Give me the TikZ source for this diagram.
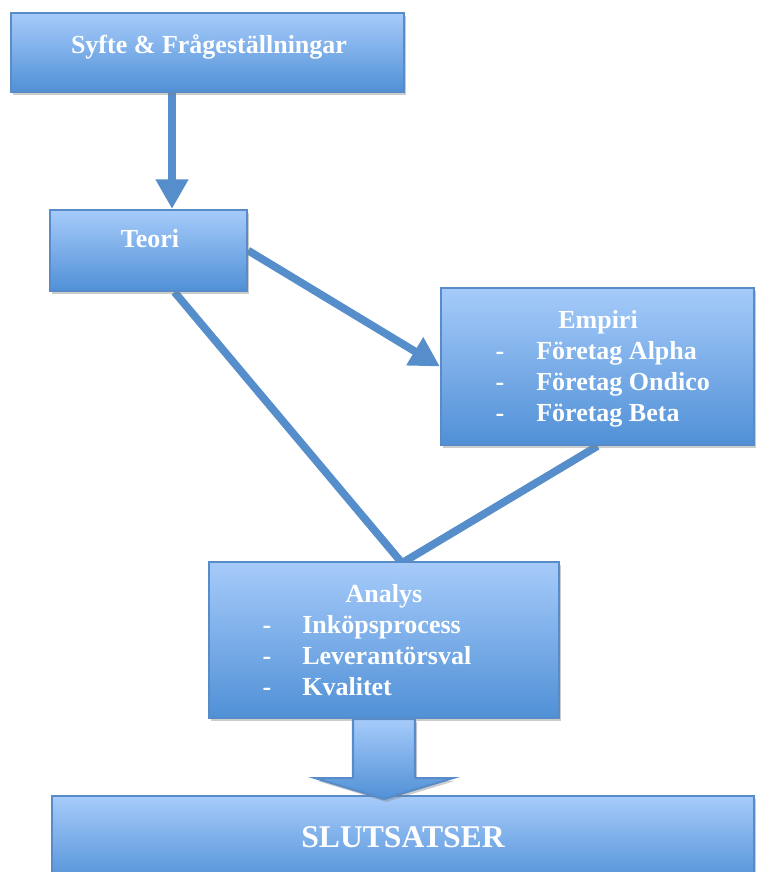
\documentclass[tikz,border=0pt]{standalone}
\usepackage{fontspec}
\setmainfont{Liberation Serif}
\usetikzlibrary{calc, arrows.meta, fit, shadows, backgrounds}
\definecolor{boxtop}{RGB}{166,203,250}
\definecolor{boxbot}{RGB}{80,144,214}
\definecolor{boxline}{RGB}{88,140,200}
\definecolor{connline}{RGB}{85,142,203}
\tikzset{
  box/.style = {draw=boxline, line width=1.5pt, top color=boxtop,
    bottom color=boxbot, inner sep=0pt,
    drop shadow={shadow xshift=1.5pt, shadow yshift=-2pt, opacity=.4}},% ruta med toning
  boxtxt/.style = {text=white, inner sep=0pt, anchor=base,
    font=\bfseries\fontsize{18.5}{22}\selectfont},% text i ruta
  itemtxt/.style = {boxtxt, anchor=base west},% punkt i lista
  conn/.style = {draw=connline, line width=5.5pt},% linje mellan rutor
  connarr/.style = {conn, -{Triangle[width=22pt,length=21pt]}}% pil mellan rutor
}

\begin{document}
\begin{tikzpicture}[x=0.025cm, y=-0.025cm]
\useasboundingbox (0,0) rectangle (757,872);

% rutor
\node[box, fit={(11,13) (404,92)}]   (syfte)  {};
\node[box, fit={(50,210) (247,291)}] (teori)  {};
\node[box, fit={(441,288) (754,445)}] (empiri) {};
\node[box, fit={(209,562) (559,718)}] (analys) {};
\node[box, fit={(52,796) (754,885)}] (slut)   {};

% blockpil mot slutsatser
\path[box] ($(analys.south)+(-31,0)$) -- ($(analys.south)+(-31,59)$)
  -- ($(analys.south)+(-69,59)$) -- ($(analys.south)+(0,80)$)
  -- ($(analys.south)+(69,59)$) -- ($(analys.south)+(31,59)$)
  -- ($(analys.south)+(31,0)$) -- cycle;

% texter
\node[boxtxt] (syftetxt) at (209,54) {Syfte \& Frågeställningar};
\node[boxtxt] (teoritxt) at (150,248) {Teori};
\node[boxtxt] (empiritxt) at (598,328) {Empiri};
\foreach \t [count=\i] in {Företag Alpha, Företag Ondico, Företag Beta} {
  \node[boxtxt]  (edash\i) at (500,328+31*\i) {-};
  \node[itemtxt] (eitem\i) at (536,328+31*\i) {\t};
}
\node[boxtxt] (analystxt) at (384,602) {Analys};
\foreach \t [count=\i] in {Inköpsprocess, Leverantörsval, Kvalitet} {
  \node[boxtxt]  (adash\i) at (267,602+31*\i) {-};
  \node[itemtxt] (aitem\i) at (302,602+31*\i) {\t};
}
\node[boxtxt, font=\bfseries\fontsize{22.5}{27}\selectfont] (sluttxt) at (403,847) {SLUTSATSER};

% linjer
\coordinate (ax) at (172,0);
\coordinate (vtx) at (402,563);
\begin{scope}[on background layer]
\draw[connarr] (syfte.south -| ax) -- (teori.north -| ax);
\draw[connarr] (teori.east) -- (empiri.west);
\draw[conn, line join=miter] ($(teori.south)+(26,0)$) -- (vtx) -- (empiri.south);
\end{scope}
\end{tikzpicture}
\end{document}
